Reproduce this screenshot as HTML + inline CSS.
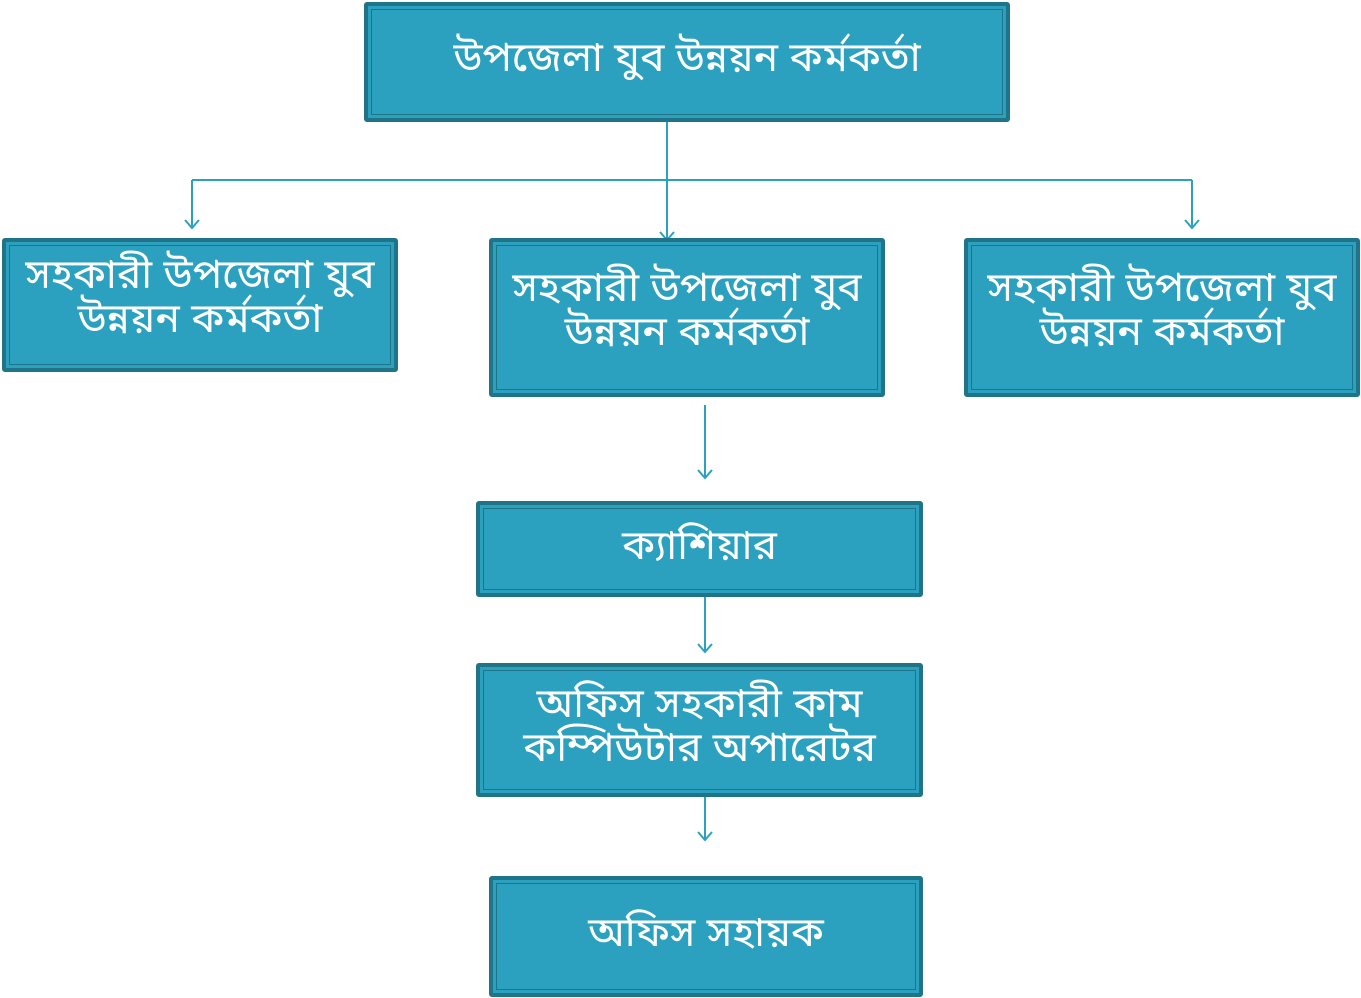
<!DOCTYPE html>
<html><head><meta charset="utf-8"><style>
body{margin:0;width:1361px;height:998px;background:#fff;position:relative;overflow:hidden;font-family:"Liberation Sans","Noto Sans Bengali","Lohit Bengali",sans-serif}
.b{position:absolute;box-sizing:border-box;background:#2ba1bf;border:4px solid #1f7488;border-radius:3px}
.b::after{content:"";position:absolute;left:3px;top:3px;right:3px;bottom:3px;border:1.5px solid #1f7488}
.t{position:absolute;left:0;right:0;top:0;bottom:0;display:flex;align-items:center;justify-content:center;text-align:center;color:#fff;font-size:41px;line-height:44px;z-index:2;white-space:nowrap}
svg{position:absolute;left:0;top:0}
</style></head><body>
<svg width="1361" height="998"><g stroke="#2ba1bf" stroke-width="2" fill="none">
<path d="M667 121V240M192 180H1192M192 180V228M1192 180V228M705 405V478M705 596V652M705 796V840"/>
<path d="M185 220L192 228L199 220M1185 220L1192 228L1199 220M660 232L667 240L674 232M698 470L705 478L712 470M698 644L705 652L712 644M698 832L705 840L712 832"/>
</g></svg>
<div class="b" style="left:364px;top:2px;width:646px;height:120px"><div class="t" style="bottom:10px">উপজেলা যুব উন্নয়ন কর্মকর্তা</div></div>
<div class="b" style="left:2px;top:238px;width:396px;height:134px"><div class="t" style="bottom:18px">সহকারী উপজেলা যুব<br>উন্নয়ন কর্মকর্তা</div></div>
<div class="b" style="left:489px;top:238px;width:396px;height:159px"><div class="t" style="bottom:18px">সহকারী উপজেলা যুব<br>উন্নয়ন কর্মকর্তা</div></div>
<div class="b" style="left:964px;top:238px;width:396px;height:159px"><div class="t" style="bottom:18px">সহকারী উপজেলা যুব<br>উন্নয়ন কর্মকর্তা</div></div>
<div class="b" style="left:476px;top:501px;width:447px;height:96px"><div class="t" style="bottom:8px">ক্যাশিয়ার</div></div>
<div class="b" style="left:476px;top:663px;width:447px;height:134px"><div class="t" style="bottom:10px">অফিস সহকারী কাম<br>কম্পিউটার অপারেটর</div></div>
<div class="b" style="left:489px;top:876px;width:434px;height:121px"><div class="t" style="bottom:10px">অফিস সহায়ক</div></div>
</body></html>
